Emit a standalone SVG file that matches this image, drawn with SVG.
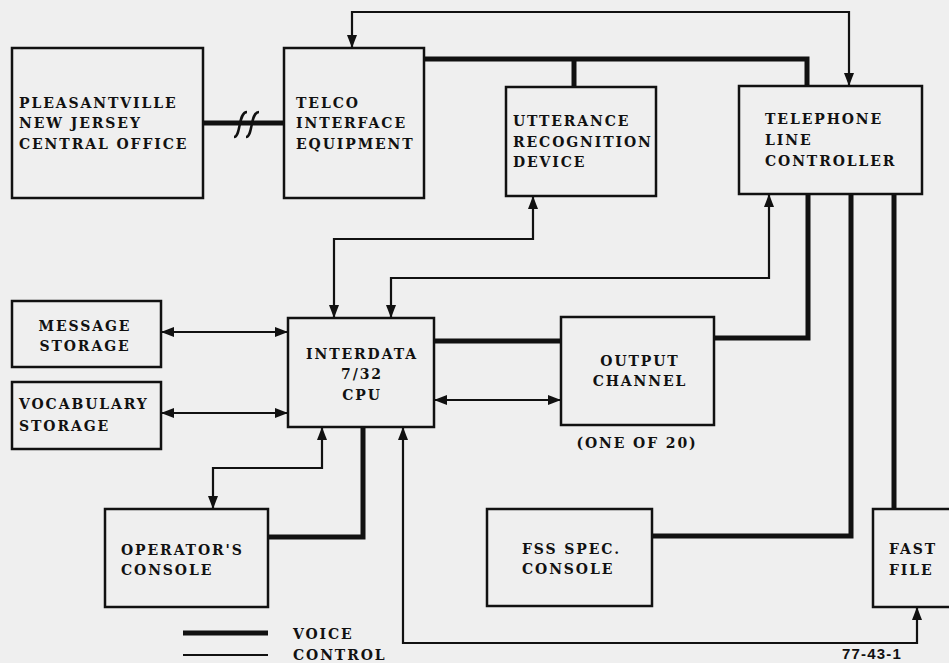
<svg xmlns="http://www.w3.org/2000/svg" width="949" height="663" viewBox="0 0 949 663">
<style>
.bg{fill:#efefef}
.box{fill:#efefef;stroke:#111;stroke-width:2.5}
.t{font-family:"DejaVu Serif","Liberation Serif",serif;font-size:14px;font-weight:bold;letter-spacing:1.9px;fill:#111}
.tc{text-anchor:middle}
.voice{fill:none;stroke:#111;stroke-width:5}
.ctl{fill:none;stroke:#111;stroke-width:2.2}
.brk{fill:none;stroke:#111;stroke-width:2.5}
.arr2{marker-start:url(#ah);marker-end:url(#ah)}
</style>
<defs>
<marker id="ah" markerUnits="userSpaceOnUse" markerWidth="13" markerHeight="10" refX="13" refY="5" orient="auto-start-reverse">
<path d="M0,0 L13,5 L0,10 z" fill="#111"/>
</marker>
</defs>
<rect class="bg" x="0" y="0" width="949" height="663"/>

<g id="connectors">
<path class="voice" d="M203,123 H284"/>
<path class="brk" d="M234,137 C241,137 238,112 247,112"/>
<path class="brk" d="M246,137 C253,137 250,112 259,112"/>
<path class="ctl arr2" d="M352,48 V12 H849 V86"/>
<path class="voice" d="M424,59 H807 V86"/>
<path class="voice" d="M574,59 V87"/>
<path class="ctl arr2" d="M533,196 V239 H334 V318"/>
<path class="ctl arr2" d="M769,194 V278 H391 V318"/>
<path class="voice" d="M714,338 H808 V194"/>
<path class="voice" d="M652,536 H851 V194"/>
<path class="voice" d="M894,194 V509"/>
<path class="voice" d="M434,341 H561"/>
<path class="ctl arr2" d="M434,400 H561"/>
<path class="ctl arr2" d="M161,332 H288"/>
<path class="ctl arr2" d="M161,413 H288"/>
<path class="ctl arr2" d="M322,427 V468 H213 V509"/>
<path class="voice" d="M363,427 V537 H268"/>
<path class="ctl arr2" d="M403,427 V643 H917 V607"/>
</g>

<g id="pleasantville">
<rect class="box" x="12" y="48" width="191" height="150"/>
<text class="t" x="19" y="108">PLEASANTVILLE</text>
<text class="t" x="19" y="128">NEW JERSEY</text>
<text class="t" x="19" y="149">CENTRAL OFFICE</text>
</g>
<g id="telco">
<rect class="box" x="284" y="48" width="140" height="150"/>
<text class="t" x="296" y="108">TELCO</text>
<text class="t" x="296" y="128">INTERFACE</text>
<text class="t" x="296" y="149">EQUIPMENT</text>
</g>
<g id="utterance">
<rect class="box" x="506" y="87" width="150" height="109"/>
<text class="t" x="513" y="126">UTTERANCE</text>
<text class="t" x="513" y="147">RECOGNITION</text>
<text class="t" x="513" y="167">DEVICE</text>
</g>
<g id="tlc">
<rect class="box" x="739" y="86" width="183" height="108"/>
<text class="t" x="765" y="124">TELEPHONE</text>
<text class="t" x="765" y="145">LINE</text>
<text class="t" x="765" y="166">CONTROLLER</text>
</g>
<g id="message">
<rect class="box" x="12" y="301" width="149" height="66"/>
<text class="t tc" x="85" y="331">MESSAGE</text>
<text class="t tc" x="85" y="351">STORAGE</text>
</g>
<g id="vocabulary">
<rect class="box" x="12" y="382" width="149" height="67"/>
<text class="t" x="19" y="409">VOCABULARY</text>
<text class="t" x="19" y="431">STORAGE</text>
</g>
<g id="cpu">
<rect class="box" x="288" y="318" width="146" height="109"/>
<text class="t tc" x="362" y="359">INTERDATA</text>
<text class="t tc" x="362" y="379">7/32</text>
<text class="t tc" x="362" y="400">CPU</text>
</g>
<g id="output">
<rect class="box" x="561" y="317" width="153" height="108"/>
<text class="t tc" x="640" y="366">OUTPUT</text>
<text class="t tc" x="640" y="386">CHANNEL</text>
<text class="t tc" x="637" y="448">(ONE OF 20)</text>
</g>
<g id="operator">
<rect class="box" x="105" y="509" width="163" height="98"/>
<text class="t" x="121" y="555">OPERATOR'S</text>
<text class="t" x="121" y="575">CONSOLE</text>
</g>
<g id="fss">
<rect class="box" x="487" y="509" width="165" height="97"/>
<text class="t" x="522" y="554">FSS SPEC.</text>
<text class="t" x="522" y="574">CONSOLE</text>
</g>
<g id="fastfile">
<rect class="box" x="873" y="509" width="90" height="98"/>
<text class="t" x="889" y="554">FAST</text>
<text class="t" x="889" y="575">FILE</text>
</g>
<g id="legend">
<path class="voice" d="M183,633 H268"/>
<path class="ctl" d="M183,655 H268"/>
<text class="t" x="293" y="639">VOICE</text>
<text class="t" x="293" y="660">CONTROL</text>
<text x="842" y="659" style="font-family:'Liberation Sans',sans-serif;font-size:15px;font-weight:bold;letter-spacing:1.2px;fill:#111">77-43-1</text>
</g>
</svg>
